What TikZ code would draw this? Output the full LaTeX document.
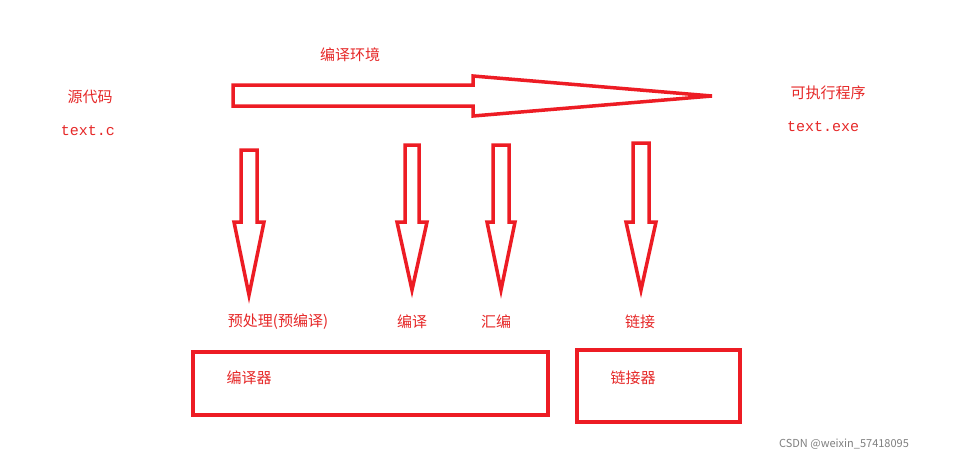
\documentclass[tikz,border=0pt]{standalone}
\usepackage{fontspec}
\setmainfont{Noto Sans CJK SC}
\setmonofont{Liberation Mono}
\definecolor{rd}{RGB}{237,28,36}
\definecolor{tr}{RGB}{230,40,40}
\tikzset{ol/.style={draw=rd,line width=3.5pt,line join=miter},
lbl/.style={text=tr,font=\fontsize{15}{17}\selectfont,inner sep=0pt},
mono/.style={text=tr,font=\ttfamily\fontsize{15}{17}\selectfont,inner sep=0pt}}
\begin{document}
\begin{tikzpicture}[x=1pt,y=-1pt]
\useasboundingbox[fill=white] (0,0) rectangle (969,464);
\draw[ol] (233,85)--(473,85)--(473,76)--(712,96)--(473,116)--(473,106)--(233,106)--cycle;
\foreach \x/\t/\e/\h/\w in {249/150/295/8/15, 412/145/290/7/15, 501/145/290/8/14, 641/143/290/8/15}{
  \draw[ol] (\x-\h,\t)--(\x+\h,\t)--(\x+\h,222)--(\x+\w,222)--(\x,\e)--(\x-\w,222)--(\x-\h,222)--cycle;
}
\node[lbl] (env) at (350,55) {编译环境};
\node[lbl] (src) at (90,97) {源代码};
\node[mono] (srcf) at (88,131) {text.c};
\node[lbl] (exe) at (828,93) {可执行程序};
\node[mono] (exef) at (823,127) {text.exe};
\node[lbl] (l1) at (278,322) {预处理(预编译)};
\node[lbl] (l2) at (412,322) {编译};
\node[lbl] (l3) at (496,322) {汇编};
\node[lbl] (l4) at (640,322) {链接};
\draw[ol] (193,352) rectangle (548,415);
\node[lbl] (c1) at (249,378) {编译器};
\draw[ol] (577,350) rectangle (740,422);
\node[lbl] (c2) at (633,378) {链接器};
\node[text=gray,font=\fontsize{11}{13}\selectfont,inner sep=0pt] (wm) at (844,444) {CSDN @weixin\_57418095};
\end{tikzpicture}
\end{document}
